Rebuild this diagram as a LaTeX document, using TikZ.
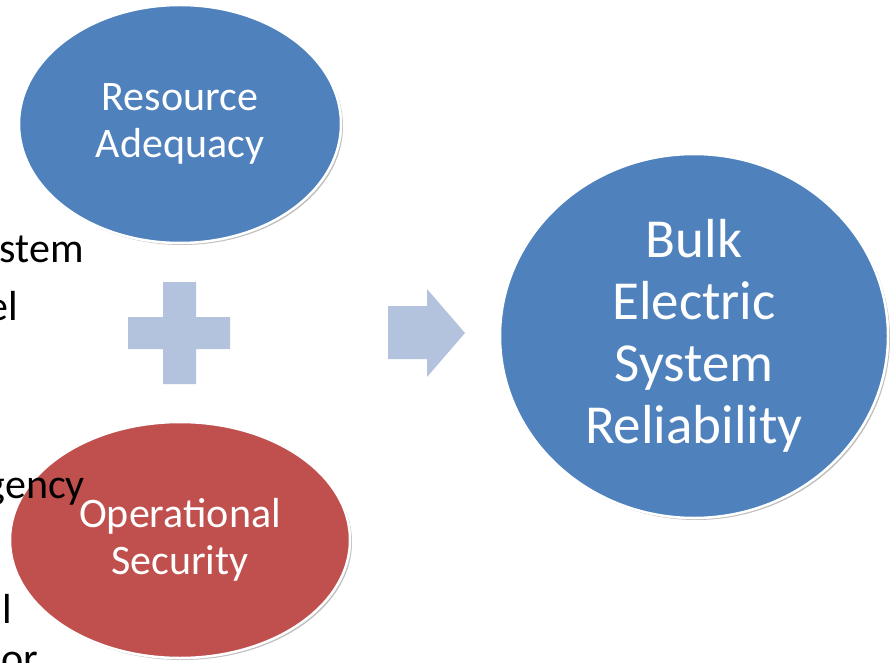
\documentclass[tikz,border=0pt]{standalone}
\usepackage{fontspec}
\setmainfont{Carlito}
\usetikzlibrary{shapes.geometric,shadows}
\definecolor{resblue}{HTML}{4F81BD}
\definecolor{opsred}{HTML}{C0504D}
\definecolor{signblue}{HTML}{B4C3DD}
\tikzset{
    bubble/.style={ellipse, draw=white, line width=2.5pt, text=white, align=center, inner sep=0pt,
        drop shadow={opacity=0.25, shadow xshift=2pt, shadow yshift=-2pt, fill=black}},
    fragment/.style={anchor=base east, inner sep=0pt, text=black, font=\fontsize{42}{50}\selectfont}
}
\begin{document}
\begin{tikzpicture}[x=1pt, y=-1pt]
        \useasboundingbox (0,0) rectangle (893,663);
        \clip (0,0) rectangle (893,663);
        %signs:
        \fill[signblue] (163,282) -- (196,282) -- (196,317) -- (230,317) -- (230,349) -- (196,349)
            -- (196,384) -- (163,384) -- (163,349) -- (128,349) -- (128,317) -- (163,317) -- cycle;
        \fill[signblue] (388,306) -- (427,306) -- (427,289) -- (465,333) -- (427,377) -- (427,359)
            -- (388,359) -- cycle;

        %bubbles:
        \node[bubble, fill=resblue, minimum width=322pt, minimum height=238pt,
            font=\fontsize{42}{47}\selectfont] (res) at (180,124) {Resource\\Adequacy};
        \node[bubble, fill=opsred, minimum width=340pt, minimum height=236pt,
            font=\fontsize{42}{47}\selectfont] (ops) at (180,540) {Operational\\Security};
        \node[bubble, fill=resblue, minimum width=388pt, minimum height=364pt,
            font=\fontsize{55}{62}\selectfont] (bulk) at (694,336) {Bulk\\Electric\\System\\Reliability};

        %text cut off at the left:
        \foreach \x/\y/\n/\l in {84/262/f1/stem,18/320/f2/el,85/498/f3/gency,12/623/f4/l,38/672/f5/or}{
            \node[fragment] (\n) at (\x,\y) {\l};
        }
    \end{tikzpicture}
\end{document}
